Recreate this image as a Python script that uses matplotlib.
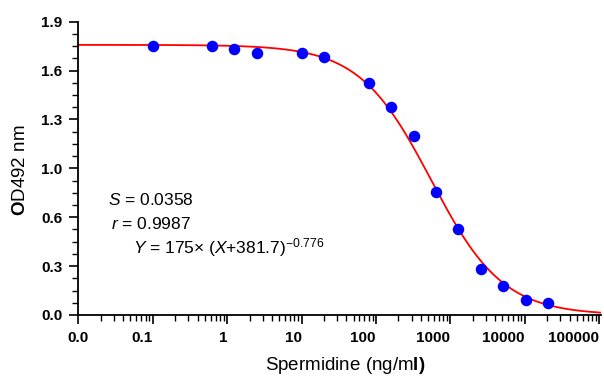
import numpy as np
import matplotlib
matplotlib.use("Agg")
import matplotlib.pyplot as plt
from matplotlib.ticker import AutoMinorLocator, LogLocator, NullFormatter

plt.rcParams["font.family"] = ["Liberation Sans", "DejaVu Sans"]
plt.rcParams["mathtext.fontset"] = "custom"
plt.rcParams["mathtext.rm"] = "Liberation Sans"
plt.rcParams["mathtext.it"] = "Liberation Sans:italic"
plt.rcParams["mathtext.bf"] = "Liberation Sans:bold"

# measured points
conc = [0.1, 0.625, 1.25, 2.5, 10, 20, 80, 160, 320, 640, 1280, 2560, 5120, 10240, 20480]
od = [1.745, 1.745, 1.72, 1.70, 1.70, 1.67, 1.50, 1.345, 1.16, 0.80, 0.555, 0.30, 0.185, 0.10, 0.075]

# fitted curve parameters
fit_top = 1.75
fit_bottom = 0.0
fit_ec50 = 550.0
fit_hill = 0.9

x_ticks = [0.01, 0.1, 1, 10, 100, 1000, 10000, 100000]
x_labels = ["0.0", "0.1", "1", "10", "100", "1000", "10000", "100000"]
y_ticks = list(np.linspace(0, 1.9, 7))
y_labels = ["0.0", "0.3", "0.6", "1.0", "1.3", "1.6", "1.9"]

fig = plt.figure(figsize=(6.04, 3.77), dpi=100)
ax = fig.add_axes([78.3 / 604, 1 - 315 / 377, 523 / 604, 293.3 / 377])

xs = np.logspace(-2, np.log10(1.07e5), 400)
ys = fit_bottom + (fit_top - fit_bottom) / (1 + (xs / fit_ec50) ** fit_hill)
ax.plot(xs, ys, color="red", lw=1.3, zorder=2)
ax.plot(conc, od, "o", color="#0000ff", markersize=8.3, markeredgewidth=0, zorder=3)

ax.set_xscale("log")
ax.set_xlim(0.01, 1.065e5)
ax.set_ylim(0, 1.9)

ax.set_xticks(x_ticks)
ax.set_xticklabels(x_labels)
ax.xaxis.set_minor_locator(LogLocator(base=10, subs=np.arange(2, 10)))
ax.xaxis.set_minor_formatter(NullFormatter())
for i, lab in enumerate(ax.get_xticklabels()):
    lab.set_horizontalalignment("center" if i == 0 else "right")

ax.set_yticks(y_ticks)
ax.set_yticklabels(y_labels)
ax.yaxis.set_minor_locator(AutoMinorLocator(4))

ax.tick_params(which="major", direction="out", length=6.5, width=1.2,
               labelsize=11, pad=5)
ax.tick_params(which="minor", direction="out", length=4, width=1.0)
for lab in ax.get_xticklabels() + ax.get_yticklabels():
    lab.set_fontweight("bold")

for s in ["top", "right"]:
    ax.spines[s].set_visible(False)
for s in ["left", "bottom"]:
    ax.spines[s].set_linewidth(1.3)

fig.text(345 / 604, 1 - 366 / 377, r"Spermidine (ng/m$\mathbf{l)}$",
         ha="center", va="center", fontsize=13.5)
fig.text(21 / 604, 1 - 170 / 377, r"$\mathbf{O}$D492 nm", rotation=90,
         ha="center", va="center", fontsize=13.5)

fig.text(108 / 604, 1 - 200 / 377, r"$S$ = 0.0358", ha="left", va="center", fontsize=12.5)
fig.text(111 / 604, 1 - 224 / 377, r"$r$ = 0.9987", ha="left", va="center", fontsize=12.5)
fig.text(133 / 604, 1 - 248 / 377, r"$Y$ = 175× ($X$+381.7)$^{-0.776}$",
         ha="left", va="center", fontsize=12.5)

fig.savefig("out.png", dpi=100)
